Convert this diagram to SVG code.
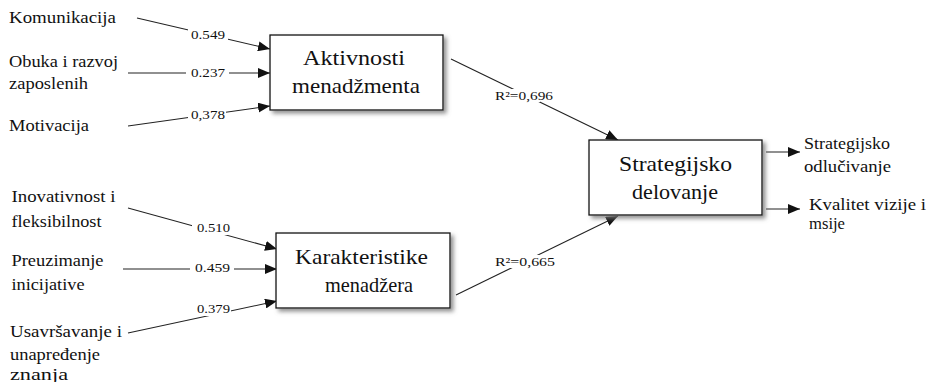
<svg xmlns="http://www.w3.org/2000/svg" width="932" height="382" viewBox="0 0 932 382" font-family="Liberation Serif">
<style>
text{fill:#111}
.lbl{font-size:16px}
.num{font-size:13px}
.box{font-size:22px}
.node rect{fill:#fff;stroke:#111;stroke-width:1.3;filter:url(#sh)}
.conn line{stroke:#222;stroke-width:1.1;fill:none}
.arr{marker-end:url(#ah)}
.bg{fill:#fff}
</style>
<defs>
<filter id="sh" x="-10%" y="-10%" width="130%" height="140%">
<feDropShadow dx="3" dy="3" stdDeviation="2" flood-color="#777" flood-opacity="0.8"/>
</filter>
<marker id="ah" markerUnits="userSpaceOnUse" markerWidth="12" markerHeight="10" refX="12" refY="5" orient="auto">
<path d="M0,0 L12,5 L0,10 Z" fill="#111"/>
</marker>
</defs>
<rect width="932" height="382" fill="#fff"/>

<g id="connectors" class="conn">
<line class="arr" x1="137" y1="18" x2="270" y2="49"/>
<line class="arr" x1="128" y1="73" x2="270" y2="73"/>
<line class="arr" x1="128" y1="126" x2="270" y2="106"/>
<line class="arr" x1="128" y1="208" x2="277" y2="249"/>
<line class="arr" x1="123" y1="269" x2="277" y2="269"/>
<line class="arr" x1="128" y1="333" x2="277" y2="301"/>
<line class="arr" x1="451" y1="59" x2="618" y2="140"/>
<line class="arr" x1="456" y1="295" x2="618" y2="216"/>
<line class="arr" x1="766" y1="152" x2="800" y2="152"/>
<line class="arr" x1="766" y1="209" x2="800" y2="209"/>
</g>

<g id="edge-labels">
<rect class="bg" x="188" y="29" width="40" height="12"/>
<text class="num" x="191" y="39" textLength="34" lengthAdjust="spacingAndGlyphs">0.549</text>
<rect class="bg" x="186" y="66" width="43" height="13"/>
<text class="num" x="191" y="77" textLength="34" lengthAdjust="spacingAndGlyphs">0.237</text>
<rect class="bg" x="188" y="109" width="38" height="13"/>
<text class="num" x="191" y="119" textLength="34" lengthAdjust="spacingAndGlyphs">0,378</text>
<rect class="bg" x="192" y="221" width="40" height="14"/>
<text class="num" x="197" y="232" textLength="33" lengthAdjust="spacingAndGlyphs">0.510</text>
<rect class="bg" x="190" y="262" width="44" height="13"/>
<text class="num" x="195" y="272" textLength="35" lengthAdjust="spacingAndGlyphs">0.459</text>
<rect class="bg" x="195" y="303" width="36" height="13"/>
<text class="num" x="197" y="313" textLength="33" lengthAdjust="spacingAndGlyphs">0.379</text>
<rect class="bg" x="493" y="89" width="47" height="13"/>
<text class="num" x="495" y="100" textLength="58" lengthAdjust="spacingAndGlyphs">R²=0,696</text>
<rect class="bg" x="493" y="255" width="64" height="13"/>
<text class="num" x="495" y="266" textLength="60" lengthAdjust="spacingAndGlyphs">R²=0,665</text>
</g>

<g id="n-komunikacija"><text class="lbl" x="9" y="23" textLength="107" lengthAdjust="spacingAndGlyphs">Komunikacija</text></g>
<g id="n-obuka"><text class="lbl" x="9" y="66.5" textLength="109" lengthAdjust="spacingAndGlyphs">Obuka i razvoj</text><text class="lbl" x="9" y="89" textLength="79" lengthAdjust="spacingAndGlyphs">zaposlenih</text></g>
<g id="n-motivacija"><text class="lbl" x="9" y="131" textLength="80" lengthAdjust="spacingAndGlyphs">Motivacija</text></g>
<g id="n-inovativnost"><text class="lbl" x="11.5" y="201.5" textLength="104" lengthAdjust="spacingAndGlyphs">Inovativnost i</text><text class="lbl" x="11.5" y="226.5" textLength="90" lengthAdjust="spacingAndGlyphs">fleksibilnost</text></g>
<g id="n-preuzimanje"><text class="lbl" x="11.5" y="265.5" textLength="92" lengthAdjust="spacingAndGlyphs">Preuzimanje</text><text class="lbl" x="11.5" y="289.5" textLength="73" lengthAdjust="spacingAndGlyphs">inicijative</text></g>
<g id="n-usavrsavanje"><text class="lbl" x="10" y="336.5" textLength="112" lengthAdjust="spacingAndGlyphs">Usavršavanje i</text><text class="lbl" x="10" y="360" textLength="90" lengthAdjust="spacingAndGlyphs">unapređenje</text><text class="lbl" x="10" y="380" textLength="58" lengthAdjust="spacingAndGlyphs">znanja</text></g>

<g id="n-aktivnosti" class="node">
<rect x="270" y="35" width="173" height="75"/>
<text class="box" x="303" y="64.5" textLength="102" lengthAdjust="spacingAndGlyphs">Aktivnosti</text>
<text class="box" x="292" y="93" textLength="128" lengthAdjust="spacingAndGlyphs">menadžmenta</text>
</g>
<g id="n-karakteristike" class="node">
<rect x="276" y="233" width="174" height="75"/>
<text class="box" x="295" y="263.5" textLength="133" lengthAdjust="spacingAndGlyphs">Karakteristike</text>
<text class="box" x="325" y="291.5" textLength="88" lengthAdjust="spacingAndGlyphs">menadžera</text>
</g>
<g id="n-strategijsko" class="node">
<rect x="589" y="140" width="173" height="75"/>
<text class="box" x="619" y="171" textLength="113" lengthAdjust="spacingAndGlyphs">Strategijsko</text>
<text class="box" x="632" y="198.5" textLength="86" lengthAdjust="spacingAndGlyphs">delovanje</text>
</g>

<g id="n-odlucivanje"><text class="lbl" x="804" y="148.5" textLength="86" lengthAdjust="spacingAndGlyphs">Strategijsko</text><text class="lbl" x="804" y="171.5" textLength="87" lengthAdjust="spacingAndGlyphs">odlučivanje</text></g>
<g id="n-kvalitet"><text class="lbl" x="809" y="210" textLength="117" lengthAdjust="spacingAndGlyphs">Kvalitet vizije i</text><text class="lbl" x="809" y="228.5" textLength="36" lengthAdjust="spacingAndGlyphs">msije</text></g>
</svg>
